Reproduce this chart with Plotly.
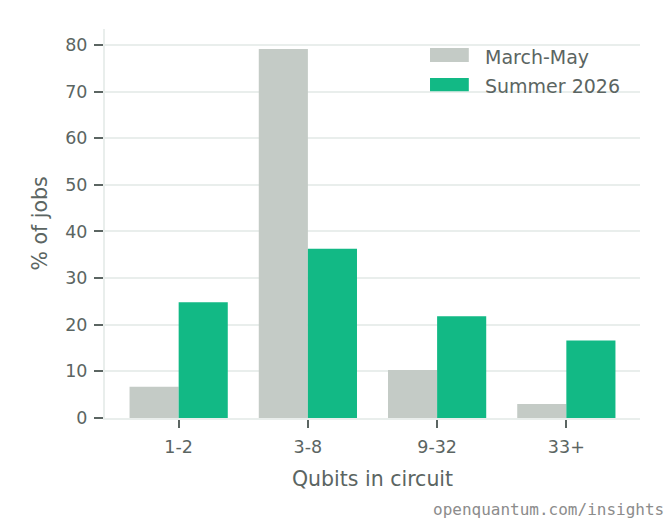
import plotly.graph_objects as go

categories = ["1-2", "3-8", "9-32", "33+"]
march_may = [6.7, 79.1, 10.3, 3.0]
summer_2026 = [24.8, 36.3, 21.8, 16.6]
series_names = ["March-May", "Summer 2026"]
y_ticks = [0, 10, 20, 30, 40, 50, 60, 70, 80]

GRAY = "#c4cbc6"
GREEN = "#12b985"
TEXT = "#5b6562"
GRID = "#e9eeec"
FONT = "DejaVu Sans"

fig = go.Figure()
fig.add_trace(go.Bar(x=categories, y=march_may, name=series_names[0],
                     marker=dict(color=GRAY, line=dict(width=0)), showlegend=False))
fig.add_trace(go.Bar(x=categories, y=summer_2026, name=series_names[1],
                     marker=dict(color=GREEN, line=dict(width=0)), showlegend=False))

# legend swatches and labels (paper coords)
legend_rows = [(series_names[0], GRAY, 0.951, 0.915), (series_names[1], GREEN, 0.874, 0.840)]
for name, col, y1, y0 in legend_rows:
    fig.add_shape(type="rect", xref="paper", yref="paper", x0=0.6075, x1=0.680,
                  y0=y0, y1=y1, fillcolor=col, line=dict(width=0), layer="above")
    fig.add_annotation(xref="paper", yref="paper", x=0.707, y=(y0 + y1) / 2 - 0.004,
                       text=name, showarrow=False, xanchor="left", yanchor="middle",
                       font=dict(family=FONT, size=19, color=TEXT))

fig.add_annotation(xref="paper", yref="paper", x=1.049, y=-0.234,
                   text="openquantum.com/insights", showarrow=False,
                   xanchor="right", yanchor="middle",
                   font=dict(family="DejaVu Sans Mono", size=16, color="#8c8c8c"))

fig.update_layout(
    width=670, height=520,
    margin=dict(l=105, r=30, t=29, b=102),
    paper_bgcolor="white", plot_bgcolor="white",
    barmode="group", bargap=0.24, bargroupgap=0,
    font=dict(family=FONT, size=17.5, color=TEXT),
    xaxis=dict(
        type="category", range=[-0.57, 3.57],
        showline=True, linecolor=GRID, linewidth=2,
        ticks="outside", ticklen=8, tickwidth=2, tickcolor=TEXT,
        ticklabelstandoff=4,
        tickfont=dict(size=17.5, color=TEXT),
        title=dict(text="Qubits in circuit", font=dict(size=20.5, color=TEXT), standoff=16),
        showgrid=False, zeroline=False,
    ),
    yaxis=dict(
        range=[0, 83.4], tickvals=y_ticks,
        showline=True, linecolor=GRID, linewidth=2,
        ticks="outside", ticklen=9, tickwidth=2, tickcolor=TEXT,
        ticklabelstandoff=3,
        tickfont=dict(size=17.5, color=TEXT),
        showgrid=True, gridcolor=GRID, gridwidth=2,
        zeroline=False,
        title=dict(text="% of jobs", font=dict(size=20.5, color=TEXT), standoff=12),
    ),
)

fig.write_html("out.html", config={"displayModeBar": False},
               post_script="document.body.style.margin='0';")
